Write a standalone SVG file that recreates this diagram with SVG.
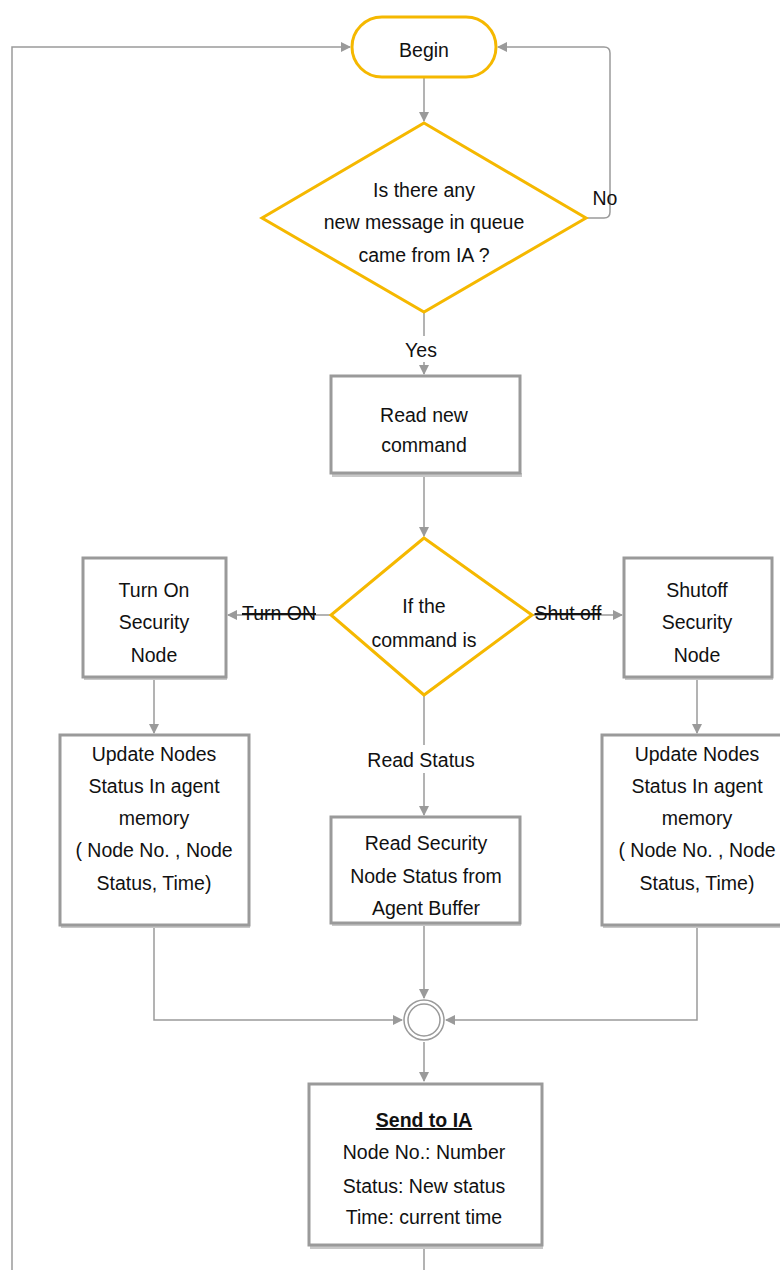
<svg xmlns="http://www.w3.org/2000/svg" width="780" height="1270" viewBox="0 0 780 1270">
<style>
text{font-family:"Liberation Sans",Arial,sans-serif;font-size:19.5px;fill:#111;text-anchor:middle}
.box{fill:#fff;stroke:#9a9a9a;stroke-width:3}
.shadow{fill:#c8c8c8}
.dec{fill:#fff;stroke:#F5B800;stroke-width:3}
.con{fill:none;stroke:#9a9a9a;stroke-width:1.5}
.strike{text-decoration:line-through}
</style>
<defs>
<marker id="ah" markerWidth="10" markerHeight="10" refX="9" refY="5" orient="auto" markerUnits="userSpaceOnUse">
<path d="M0,0 L10,5 L0,10 Z" fill="#9a9a9a"/>
</marker>
</defs>
<rect width="780" height="1270" fill="#fff"/>
<g id="connectors">
<path class="con" d="M12,1270 V47 H350" marker-end="url(#ah)"/>
<path class="con" d="M424,78 V121" marker-end="url(#ah)"/>
<path class="con" d="M586,218 H604 Q610,218 610,212 V53 Q610,47 604,47 H498" marker-end="url(#ah)"/>
<path class="con" d="M424,312 V336"/>
<path class="con" d="M424,362 V374" marker-end="url(#ah)"/>
<path class="con" d="M424,475 V536" marker-end="url(#ah)"/>
<path class="con" d="M331,615 H228" marker-end="url(#ah)"/>
<path class="con" d="M532,615 H622" marker-end="url(#ah)"/>
<path class="con" d="M154,679 V733" marker-end="url(#ah)"/>
<path class="con" d="M697,679 V733" marker-end="url(#ah)"/>
<path class="con" d="M424,695 V745"/>
<path class="con" d="M424,773 V815" marker-end="url(#ah)"/>
<path class="con" d="M154,927 V1020 H402" marker-end="url(#ah)"/>
<path class="con" d="M697,927 V1020 H446" marker-end="url(#ah)"/>
<path class="con" d="M424,925 V998" marker-end="url(#ah)"/>
<path class="con" d="M424,1042 V1081" marker-end="url(#ah)"/>
<path class="con" d="M424,1248 V1270"/>
</g>
<g id="labels">
<text x="605" y="205">No</text>
<text x="421" y="357">Yes</text>
<text x="279" y="620" class="strike">Turn ON</text>
<text x="568" y="620" class="strike">Shut off</text>
<text x="421" y="767">Read Status</text>
</g>
<g id="begin">
<rect x="352" y="17" width="144" height="60" rx="30" class="dec"/>
<text x="424" y="57">Begin</text>
</g>
<g id="decision1">
<polygon points="424,123 586,218 424,312 262,218" class="dec"/>
<text x="424" y="197">Is there any</text>
<text x="424" y="229">new message in queue</text>
<text x="424" y="262">came from IA ?</text>
</g>
<g id="readcmd">
<rect x="332" y="473" width="190" height="4" class="shadow"/>
<rect x="331" y="376" width="189" height="97" class="box"/>
<text x="424" y="422">Read new</text>
<text x="424" y="452">command</text>
</g>
<g id="decision2">
<polygon points="424,538 532,615 424,695 331,615" class="dec"/>
<text x="424" y="613">If the</text>
<text x="424" y="647">command is</text>
</g>
<g id="turnon">
<rect x="84" y="677" width="143" height="3" class="shadow"/>
<rect x="83" y="558" width="143" height="119" class="box"/>
<text x="154" y="597">Turn On</text>
<text x="154" y="629">Security</text>
<text x="154" y="662">Node</text>
</g>
<g id="shutoff">
<rect x="625" y="677" width="148" height="3" class="shadow"/>
<rect x="624" y="558" width="148" height="119" class="box"/>
<text x="697" y="597">Shutoff</text>
<text x="697" y="629">Security</text>
<text x="697" y="662">Node</text>
</g>
<g id="update-left">
<rect x="61" y="925" width="189" height="3" class="shadow"/>
<rect x="60" y="735" width="189" height="190" class="box"/>
<text x="154" y="761">Update Nodes</text>
<text x="154" y="793">Status In agent</text>
<text x="154" y="825">memory</text>
<text x="154" y="857">( Node No. , Node</text>
<text x="154" y="890">Status, Time)</text>
</g>
<g id="readsec">
<rect x="332" y="923" width="189" height="3" class="shadow"/>
<rect x="331" y="817" width="189" height="106" class="box"/>
<text x="426" y="850">Read Security</text>
<text x="426" y="883">Node Status from</text>
<text x="426" y="915">Agent Buffer</text>
</g>
<g id="update-right">
<rect x="603" y="925" width="189" height="3" class="shadow"/>
<rect x="602" y="735" width="190" height="190" class="box"/>
<text x="697" y="761">Update Nodes</text>
<text x="697" y="793">Status In agent</text>
<text x="697" y="825">memory</text>
<text x="697" y="857">( Node No. , Node</text>
<text x="697" y="890">Status, Time)</text>
</g>
<g id="merge">
<circle cx="424" cy="1020" r="20" fill="#fff" stroke="#9a9a9a" stroke-width="1.5"/>
<circle cx="424" cy="1020" r="16" fill="#fff" stroke="#9a9a9a" stroke-width="1.5"/>
</g>
<g id="send">
<rect x="310" y="1245" width="233" height="4" class="shadow"/>
<rect x="309" y="1084" width="233" height="161" class="box"/>
<text x="424" y="1127" font-weight="bold" text-decoration="underline">Send to IA</text>
<text x="424" y="1159">Node No.: Number</text>
<text x="424" y="1193">Status: New status</text>
<text x="424" y="1224">Time: current time</text>
</g>
</svg>
